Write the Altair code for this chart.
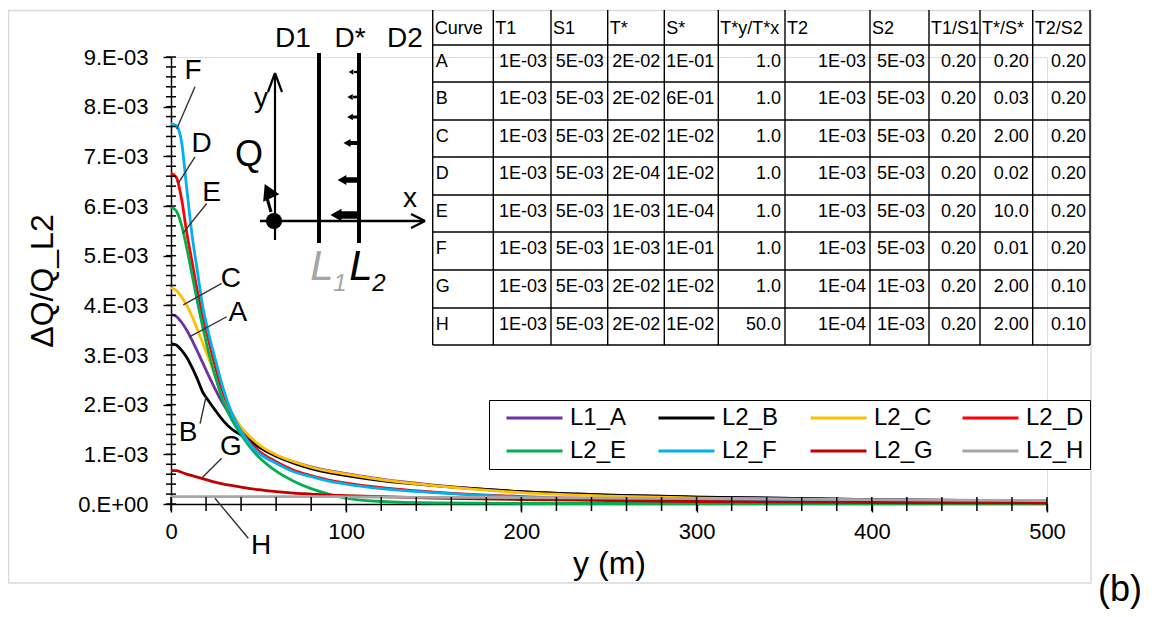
import altair as alt
import pandas as pd

# ---------------- curves: y (m) vs dQ/Q_L2 (values in units of 1E-03) ----------------
Y_M = [0, 3, 6, 9, 12, 15, 18, 21, 25, 30, 35, 40, 45, 50, 60, 70, 80, 90, 100, 120, 150, 200, 250, 300, 400, 500]
L1_A = [3.82, 3.78, 3.66, 3.50, 3.30, 3.08, 2.85, 2.62, 2.33, 2.00, 1.72, 1.49, 1.32, 1.18, 0.98, 0.85, 0.75, 0.67, 0.61, 0.50, 0.38, 0.25, 0.18, 0.14, 0.09, 0.06]
L2_B = [3.23, 3.20, 3.10, 2.95, 2.75, 2.52, 2.26, 2.10, 1.90, 1.67, 1.50, 1.39, 1.27, 1.15, 0.96, 0.82, 0.71, 0.63, 0.57, 0.47, 0.37, 0.25, 0.18, 0.14, 0.09, 0.06]
L2_C = [4.35, 4.30, 4.17, 4.00, 3.78, 3.52, 3.25, 2.98, 2.60, 2.17, 1.82, 1.55, 1.36, 1.20, 0.99, 0.85, 0.74, 0.66, 0.60, 0.49, 0.37, 0.23, 0.16, 0.12, 0.07, 0.05]
L2_D = [6.66, 6.58, 6.15, 5.46, 4.88, 4.30, 3.80, 3.36, 2.80, 2.22, 1.80, 1.46, 1.24, 1.07, 0.85, 0.68, 0.57, 0.48, 0.42, 0.33, 0.24, 0.15, 0.10, 0.07, 0.04, 0.03]
L2_E = [5.98, 5.90, 5.62, 5.15, 4.62, 4.08, 3.58, 3.12, 2.60, 2.05, 1.68, 1.40, 1.15, 0.95, 0.66, 0.46, 0.31, 0.20, 0.12, 0.05, 0.02, 0.01, 0.01, 0.01, 0.01, 0.01]
L2_F = [7.66, 7.62, 7.30, 6.35, 5.42, 4.70, 4.00, 3.50, 2.95, 2.30, 1.80, 1.46, 1.21, 1.03, 0.82, 0.65, 0.55, 0.46, 0.40, 0.31, 0.23, 0.14, 0.10, 0.07, 0.04, 0.03]
L2_G = [0.67, 0.67, 0.64, 0.60, 0.57, 0.54, 0.51, 0.48, 0.44, 0.40, 0.37, 0.34, 0.31, 0.29, 0.25, 0.22, 0.20, 0.18, 0.17, 0.15, 0.12, 0.09, 0.07, 0.05, 0.03, 0.02]
L2_H = [0.15, 0.15, 0.15, 0.15, 0.15, 0.15, 0.15, 0.15, 0.15, 0.15, 0.15, 0.15, 0.15, 0.15, 0.15, 0.15, 0.15, 0.15, 0.145, 0.14, 0.135, 0.13, 0.12, 0.11, 0.09, 0.07]
UNIT = 1e-3

SERIES_NAMES = ["L1_A", "L2_B", "L2_C", "L2_D", "L2_E", "L2_F", "L2_G", "L2_H"]
SERIES_VALUES = [L1_A, L2_B, L2_C, L2_D, L2_E, L2_F, L2_G, L2_H]
SERIES_COLORS = ["#7030A0", "#000000", "#FFC000", "#FF0000", "#00B050", "#00B0F0", "#C00000", "#A6A6A6"]

# curve letters with leader lines (data coordinates: m, 1E-03)
LETTERS = ["F", "D", "E", "C", "A", "B", "G", "H"]
LETTER_X = [12.6, 17.5, 23.2, 34.2, 38.2, 9.7, 34.2, 51.4]
LETTER_Y = [8.72, 7.25, 6.26, 4.53, 3.85, 1.43, 1.15, -0.85]
LEADER_X1 = [13.7, 13.7, 20.4, 28.9, 31.8, 16.6, 28.9, 44.1]
LEADER_Y1 = [8.40, 6.99, 6.05, 4.44, 3.77, 1.62, 0.92, -0.69]
LEADER_X2 = [3.25, 4.2, 6.7, 7.0, 10.8, 20.0, 17.5, 25.1]
LEADER_Y2 = [7.55, 6.46, 5.45, 4.01, 3.37, 2.16, 0.52, 0.115]

# ---------------- parameter table ----------------
TABLE_HEADER = ["Curve", "T1", "S1", "T*", "S*", "T*y/T*x", "T2", "S2", "T1/S1", "T*/S*", "T2/S2"]
CURVE_IDS = ["A", "B", "C", "D", "E", "F", "G", "H"]
T1_VALUES = ["1E-03", "1E-03", "1E-03", "1E-03", "1E-03", "1E-03", "1E-03", "1E-03"]
S1_VALUES = ["5E-03", "5E-03", "5E-03", "5E-03", "5E-03", "5E-03", "5E-03", "5E-03"]
TSTAR_VALUES = ["2E-02", "2E-02", "2E-02", "2E-04", "1E-03", "1E-03", "2E-02", "2E-02"]
SSTAR_VALUES = ["1E-01", "6E-01", "1E-02", "1E-02", "1E-04", "1E-01", "1E-02", "1E-02"]
TYTX_VALUES = ["1.0", "1.0", "1.0", "1.0", "1.0", "1.0", "1.0", "50.0"]
T2_VALUES = ["1E-03", "1E-03", "1E-03", "1E-03", "1E-03", "1E-03", "1E-04", "1E-04"]
S2_VALUES = ["5E-03", "5E-03", "5E-03", "5E-03", "5E-03", "5E-03", "1E-03", "1E-03"]
T1S1_VALUES = ["0.20", "0.20", "0.20", "0.20", "0.20", "0.20", "0.20", "0.20"]
TSSS_VALUES = ["0.20", "0.03", "2.00", "0.02", "10.0", "0.01", "2.00", "2.00"]
T2S2_VALUES = ["0.20", "0.20", "0.20", "0.20", "0.20", "0.20", "0.10", "0.10"]
TABLE_COLUMNS = [CURVE_IDS, T1_VALUES, S1_VALUES, TSTAR_VALUES, SSTAR_VALUES, TYTX_VALUES,
                 T2_VALUES, S2_VALUES, T1S1_VALUES, TSSS_VALUES, T2S2_VALUES]

# ---------------- layout (page pixels) ----------------
W, H = 876, 447
LEFT, TOP = 171, 57
TABLE_COL_EDGES = [432.7, 493.3, 551, 607.7, 664.3, 718.3, 785, 870, 929, 980, 1032.7, 1090]
TABLE_ROW_EDGES = [10, 45, 82, 120, 157, 195, 232, 270, 308, 345]

SANS = "Liberation Sans, Arial, sans-serif"

# ---------------- data frames ----------------
rows = []
for name, vals in zip(SERIES_NAMES, SERIES_VALUES):
    for ym, v in zip(Y_M, vals):
        rows.append({"y_m": ym, "dq": v * UNIT, "series": name})
curves = pd.DataFrame(rows)

letters = pd.DataFrame({"t": LETTERS, "x": LETTER_X, "y": [v * UNIT for v in LETTER_Y]})
leaders = pd.DataFrame({"x": LEADER_X1, "y": [v * UNIT for v in LEADER_Y1],
                        "x2": LEADER_X2, "y2": [v * UNIT for v in LEADER_Y2]})

XS = alt.Scale(domain=[0, 500], nice=False, zero=False)
YS = alt.Scale(domain=[0, 0.009], nice=False, zero=False)
PXS = alt.Scale(domain=[LEFT, LEFT + W], nice=False, zero=False)
PYS = alt.Scale(domain=[TOP + H, TOP], nice=False, zero=False)

major_y = [round(i * 0.001, 4) for i in range(10)]
minor_y = [round(i * 0.0002, 5) for i in range(46)]
minor_x = list(range(0, 501, 20))

lines = alt.Chart(curves).mark_line(strokeWidth=2.8, interpolate="monotone").encode(
    x=alt.X("y_m:Q", scale=XS, axis=alt.Axis(
        orient="bottom", values=[0, 100, 200, 300, 400, 500], tickSize=8, tickWidth=1.4, tickColor="black",
        domainColor="black", domainWidth=1.5, labelFontSize=22, labelFont=SANS, labelColor="black",
        labelPadding=9, labelFlush=False, grid=False,
        title="y (m)", titleFont=SANS, titleFontSize=32, titleFontWeight="normal", titleColor="black",
        titleX=438, titleY=59, titleBaseline="middle", titleAlign="center")),
    y=alt.Y("dq:Q", scale=YS, axis=alt.Axis(
        orient="left", values=major_y, tickSize=8, tickWidth=1.4, tickColor="black",
        domainColor="black", domainWidth=1.5, labelFontSize=22, labelFont=SANS, labelColor="black",
        labelPadding=15, grid=False,
        labelExpr="datum.value < 0.00005 ? '0.E+00' : format(datum.value * 1000, '.0f') + '.E-03'",
        title="ΔQ/Q_L2", titleFont=SANS, titleFontSize=32, titleFontWeight="normal", titleColor="black",
        titleX=-129, titleY=223.5, titleAngle=270, titleBaseline="middle", titleAlign="center")),
    color=alt.Color("series:N", scale=alt.Scale(domain=SERIES_NAMES, range=SERIES_COLORS),
                    legend=alt.Legend(orient="none", legendX=318, legendY=343, columns=4, direction="horizontal",
                                      title=None,
                                      symbolType="stroke", symbolSize=3136, symbolStrokeWidth=3,
                                      labelFontSize=24, labelFont=SANS, labelColor="black", labelOffset=6,
                                      columnPadding=18, rowPadding=9, padding=6, symbolOffset=10,
                                      clipHeight=24, gridAlign="all", labelLimit=200,
                                      strokeColor="black", fillColor="white")),
)

# minor tick marks along both axes, placed through the data scales
xticks_in = alt.Chart(pd.DataFrame({"v": minor_x})).mark_tick(
    color="black", thickness=1.5, size=14, orient="vertical", opacity=1).encode(
    x=alt.X("v:Q", scale=XS, axis=None), y=alt.value(H))
yticks_in = alt.Chart(pd.DataFrame({"v": minor_y, "x0": [0] * len(minor_y)})).mark_tick(
    color="black", thickness=1.5, size=10, orient="horizontal", opacity=1).encode(
    y=alt.Y("v:Q", scale=YS, axis=None), x=alt.X("x0:Q", scale=XS, axis=None))

leader_layer = alt.Chart(leaders).mark_rule(color="#333333", strokeWidth=1.4).encode(
    x=alt.X("x:Q", scale=XS, axis=None), y=alt.Y("y:Q", scale=YS, axis=None),
    x2="x2:Q", y2="y2:Q")

letter_layer = alt.Chart(letters).mark_text(fontSize=28, font=SANS, color="black").encode(
    x=alt.X("x:Q", scale=XS, axis=None), y=alt.Y("y:Q", scale=YS, axis=None), text="t:N")


def px_chart(df):
    return alt.Chart(pd.DataFrame(df))


def pxx(f="x"):
    return alt.X(f + ":Q", scale=PXS, axis=None)


def pxy(f="y"):
    return alt.Y(f + ":Q", scale=PYS, axis=None)


# outer frame
frame = px_chart({"x": [8.5], "x2": [1091], "y": [10.5], "y2": [583]}).mark_rect(
    fillOpacity=0, stroke="#d9d9d9", strokeWidth=1.5).encode(x=pxx(), x2="x2:Q", y=pxy(), y2="y2:Q")

# table grid
vlines = px_chart({"x": TABLE_COL_EDGES,
                   "y": [TABLE_ROW_EDGES[0]] * len(TABLE_COL_EDGES),
                   "y2": [TABLE_ROW_EDGES[-1]] * len(TABLE_COL_EDGES)}).mark_rule(
    color="black", strokeWidth=1.4).encode(x=pxx(), y=pxy(), y2="y2:Q")
hlines = px_chart({"y": TABLE_ROW_EDGES[1:],
                   "x": [TABLE_COL_EDGES[0]] * (len(TABLE_ROW_EDGES) - 1),
                   "x2": [TABLE_COL_EDGES[-1]] * (len(TABLE_ROW_EDGES) - 1)}).mark_rule(
    color="black", strokeWidth=1.4).encode(x=pxx(), x2="x2:Q", y=pxy())

left_cells, right_cells = [], []
for c, head in enumerate(TABLE_HEADER):
    yc = (TABLE_ROW_EDGES[0] + TABLE_ROW_EDGES[1]) / 2 + 1
    left_cells.append({"x": TABLE_COL_EDGES[c] + 2, "y": yc, "t": head})
for r in range(len(CURVE_IDS)):
    yc = (TABLE_ROW_EDGES[r + 1] + TABLE_ROW_EDGES[r + 2]) / 2 - 2
    for c, col in enumerate(TABLE_COLUMNS):
        if c == 0:
            left_cells.append({"x": TABLE_COL_EDGES[c] + 3, "y": yc, "t": col[r]})
        else:
            right_cells.append({"x": TABLE_COL_EDGES[c + 1] - 4, "y": yc, "t": col[r]})

tleft = alt.Chart(pd.DataFrame(left_cells)).mark_text(align="left", font=SANS, fontSize=18, color="black").encode(
    x=pxx(), y=pxy(), text="t:N")
tright = alt.Chart(pd.DataFrame(right_cells)).mark_text(align="right", font=SANS, fontSize=18, color="black").encode(
    x=pxx(), y=pxy(), text="t:N")

# inset schematic
INSET_SEGMENTS = [  # x1, y1, x2, y2, width
    (319, 53, 319, 243, 4), (359, 53, 359, 243, 4),
    (260, 221, 423, 221, 2.5), (411, 214, 425, 221, 2.5), (411, 228, 425, 221, 2.5),
    (275, 240, 275, 75, 2.2), (268, 92, 275, 73, 2.2), (282, 92, 275, 73, 2.2),
    (271, 212, 267, 198, 3.0),
]
FLUX_Y = [72, 97, 117, 143, 180, 215]
FLUX_LEN = [8, 9, 9, 12, 17, 23]
FLUX_W = [2.2, 2.6, 3.0, 4.0, 5.5, 7.5]
FLUX_HEAD = [30, 38, 45, 65, 100, 160]

seg_df = pd.DataFrame(INSET_SEGMENTS, columns=["x", "y", "x2", "y2", "w"])
for fy, fl, fw in zip(FLUX_Y, FLUX_LEN, FLUX_W):
    seg_df.loc[len(seg_df)] = [359, fy, 359 - fl + 3, fy, fw]
segs = alt.Chart(seg_df).mark_rule(color="black").encode(
    x=pxx(), y=pxy(), x2="x2:Q", y2="y2:Q", strokeWidth=alt.StrokeWidth("w:Q", scale=None))

heads = px_chart({"x": [359 - l for l in FLUX_LEN], "y": FLUX_Y, "s": FLUX_HEAD}).mark_point(
    shape="triangle-left", filled=True, color="black", opacity=1).encode(
    x=pxx(), y=pxy(), size=alt.Size("s:Q", scale=None))
dot = px_chart({"x": [274], "y": [221]}).mark_point(shape="circle", filled=True, color="black",
                                                     opacity=1, size=260).encode(x=pxx(), y=pxy())
qarrow = px_chart({"x": [268], "y": [191]}).mark_point(shape="triangle-up", filled=True, color="black",
                                                        opacity=1, size=320, angle=335).encode(x=pxx(), y=pxy())

inset_text = px_chart({"t": ["D1", "D*", "D2", "y", "x", "Q"],
                       "x": [293, 350, 405, 261, 410, 249],
                       "y": [39, 39, 39, 99, 199, 155],
                       "s": [28, 28, 28, 28, 28, 36]}).mark_text(font=SANS, color="black").encode(
    x=pxx(), y=pxy(), text="t:N", size=alt.Size("s:Q", scale=None))

l1_text = px_chart({"t": ["L", "1"], "x": [322, 340], "y": [280, 291], "s": [42, 24]}).mark_text(
    font=SANS, fontStyle="italic", color="#a6a6a6", baseline="alphabetic").encode(
    x=pxx(), y=pxy(), text="t:N", size=alt.Size("s:Q", scale=None))
l2_text = px_chart({"t": ["L", "2"], "x": [361, 379], "y": [280, 291], "s": [42, 24]}).mark_text(
    font=SANS, fontStyle="italic", color="black", baseline="alphabetic").encode(
    x=pxx(), y=pxy(), text="t:N", size=alt.Size("s:Q", scale=None))

panel = px_chart({"t": ["(b)"], "x": [1120], "y": [590]}).mark_text(font=SANS, fontSize=36, color="black").encode(
    x=pxx(), y=pxy(), text="t:N")

chart = alt.layer(
    frame, lines, leader_layer, letter_layer,
    vlines, hlines, tleft, tright,
    segs, heads, dot, qarrow, inset_text, l1_text, l2_text, panel,
    xticks_in, yticks_in,
).resolve_scale(
    x="independent", y="independent", size="independent", strokeWidth="independent"
).properties(
    width=W, height=H,
    padding={"left": 163, "top": 49, "right": 100, "bottom": 105},
    autosize=alt.AutoSizeParams(type="none"),
).configure_view(stroke=None).configure(background="white")

chart.save("out.html", embed_options={"renderer": "svg", "actions": False})
